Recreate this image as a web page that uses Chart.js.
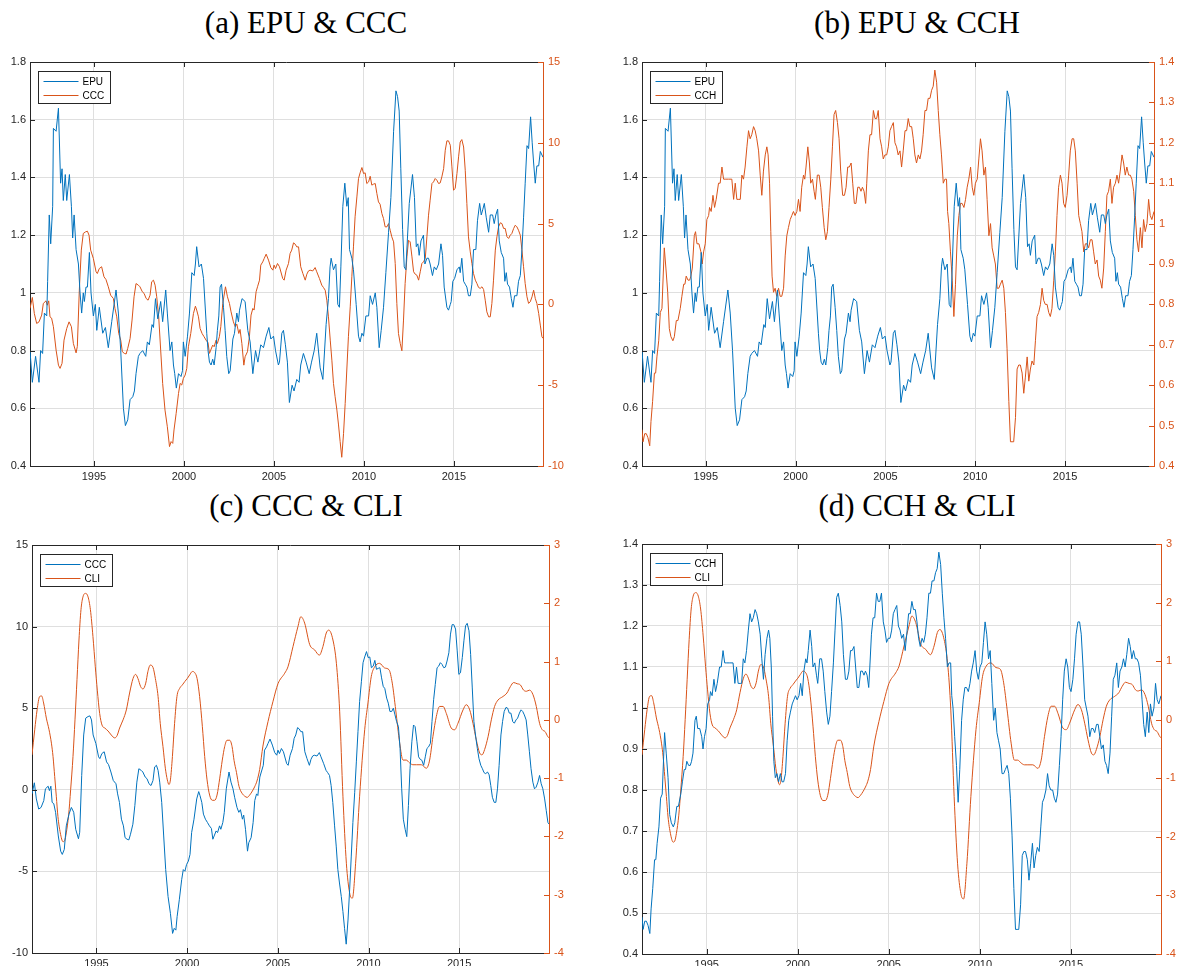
<!DOCTYPE html>
<html>
<head>
<meta charset="utf-8">
<script src="https://cdn.jsdelivr.net/npm/chart.js@4.4.1/dist/chart.umd.min.js"></script>
<style>
  html, body { margin: 0; padding: 0; background: #fff; overflow: hidden; }
  body { width: 1183px; height: 966px; position: relative; }
  canvas { position: absolute; }
  .title {
    position: absolute; width: 400px; text-align: center; white-space: nowrap;
    font-family: "Liberation Serif", "Times New Roman", serif;
    font-size: 31px; line-height: 31px; color: #000;
  }
</style>
</head>
<body>
<div class="title" style="left:106px; top:7px">(a) EPU &amp; CCC</div>
<div class="title" style="left:717px; top:7px">(b) EPU &amp; CCH</div>
<div class="title" style="left:106px; top:490px">(c) CCC &amp; CLI</div>
<div class="title" style="left:717px; top:490px">(d) CCH &amp; CLI</div>
<canvas id="panelA"></canvas>
<canvas id="panelB"></canvas>
<canvas id="panelC"></canvas>
<canvas id="panelD"></canvas>
<script>
// ---- series (decimal year / value) ----
const epuYears = [
  1991.45,1991.58,1991.76,1991.95,1992.04,1992.15,1992.25,1992.38,1992.43,1992.52,
  1992.60,1992.71,1992.75,1992.90,1993.03,1993.15,1993.23,1993.30,1993.41,1993.49,
  1993.64,1993.75,1993.82,1993.90,1994.01,1994.14,1994.23,1994.32,1994.41,1994.47,
  1994.56,1994.64,1994.75,1994.84,1994.97,1995.08,1995.16,1995.30,1995.49,1995.64,
  1995.80,1995.99,1996.23,1996.36,1996.49,1996.64,1996.75,1996.88,1997.01,1997.16,
  1997.25,1997.34,1997.47,1997.56,1997.71,1997.88,1997.97,1998.08,1998.23,1998.31,
  1998.42,1998.55,1998.71,1998.82,1998.99,1999.08,1999.23,1999.33,1999.42,1999.49,
  1999.58,1999.70,1999.84,1999.92,1999.97,2000.07,2000.20,2000.31,2000.44,2000.57,
  2000.64,2000.71,2000.84,2000.97,2001.09,2001.27,2001.34,2001.42,2001.51,2001.60,
  2001.68,2001.79,2001.86,2001.94,2002.01,2002.09,2002.20,2002.29,2002.38,2002.49,
  2002.57,2002.72,2002.81,2002.94,2003.03,2003.09,2003.23,2003.40,2003.55,2003.68,
  2003.83,2003.98,2004.11,2004.27,2004.42,2004.57,2004.72,2004.83,2004.98,2005.09,
  2005.25,2005.31,2005.44,2005.53,2005.64,2005.75,2005.86,2006.01,2006.12,2006.27,
  2006.40,2006.49,2006.64,2006.79,2006.96,2007.09,2007.24,2007.38,2007.57,2007.72,
  2007.90,2008.03,2008.12,2008.18,2008.31,2008.44,2008.55,2008.64,2008.72,2008.83,
  2008.94,2009.05,2009.13,2009.20,2009.33,2009.42,2009.57,2009.70,2009.79,2009.89,
  2009.98,2010.11,2010.26,2010.35,2010.48,2010.63,2010.72,2010.85,2010.96,2011.09,
  2011.22,2011.37,2011.50,2011.65,2011.78,2011.87,2011.96,2012.05,2012.15,2012.24,
  2012.33,2012.42,2012.52,2012.61,2012.70,2012.81,2012.91,2013.00,2013.07,2013.17,
  2013.31,2013.39,2013.50,2013.59,2013.68,2013.81,2013.91,2014.02,2014.15,2014.28,
  2014.37,2014.46,2014.61,2014.70,2014.80,2014.85,2014.94,2015.04,2015.17,2015.30,
  2015.35,2015.44,2015.54,2015.63,2015.72,2015.81,2015.91,2016.00,2016.09,2016.22,
  2016.31,2016.43,2016.52,2016.61,2016.69,2016.80,2016.93,2017.02,2017.15,2017.24,
  2017.33,2017.43,2017.52,2017.63,2017.76,2017.83,2017.91,2017.98,2018.09,2018.19,
  2018.28,2018.37,2018.50,2018.59,2018.69,2018.78,2018.87,2018.96,2019.06,2019.15,
  2019.26,2019.35,2019.43,2019.52,2019.61,2019.71,2019.80,2019.95
];
const epuValues = [
  0.80,0.69,0.78,0.69,0.80,0.79,0.93,0.92,1.04,1.27,
  1.17,1.30,1.57,1.56,1.64,1.38,1.43,1.32,1.41,1.32,
  1.41,1.30,1.19,1.27,1.15,1.10,1.00,0.93,1.00,0.97,
  1.02,1.02,1.14,1.00,0.92,0.96,0.87,0.95,0.86,0.88,
  0.81,0.90,1.01,0.93,0.80,0.60,0.54,0.56,0.63,0.64,
  0.66,0.72,0.78,0.79,0.80,0.78,0.83,0.82,0.89,0.88,
  0.98,0.91,0.97,0.90,1.01,0.93,0.80,0.83,0.75,0.72,
  0.67,0.72,0.71,0.73,0.83,0.78,0.85,0.93,1.07,1.06,
  1.10,1.16,1.09,1.10,1.05,0.86,0.80,0.76,0.75,0.77,
  0.75,0.81,0.87,0.92,1.02,1.03,0.95,0.87,0.78,0.72,
  0.73,0.84,0.86,0.93,0.90,0.94,0.98,0.97,0.87,0.83,
  0.72,0.80,0.76,0.82,0.81,0.85,0.88,0.84,0.85,0.80,
  0.75,0.76,0.86,0.87,0.82,0.76,0.62,0.68,0.66,0.70,
  0.69,0.75,0.79,0.76,0.72,0.76,0.80,0.86,0.74,0.70,
  0.89,0.98,1.09,1.12,1.08,1.10,0.96,0.95,1.09,1.30,
  1.38,1.30,1.33,1.15,1.12,1.08,0.96,0.85,0.83,0.86,
  0.85,0.92,0.92,0.99,0.96,1.00,0.95,0.81,0.87,0.95,
  1.07,1.21,1.33,1.56,1.70,1.68,1.63,1.43,1.22,1.09,
  1.08,1.19,1.31,1.36,1.41,1.33,1.16,1.17,1.13,1.18,
  1.20,1.10,1.12,1.12,1.10,1.06,1.09,1.08,1.10,1.17,
  1.13,1.02,0.95,0.94,0.96,0.97,1.04,1.05,1.08,1.09,
  1.07,1.12,1.04,1.03,1.02,0.99,0.99,1.03,1.15,1.15,
  1.25,1.31,1.27,1.29,1.31,1.26,1.21,1.27,1.27,1.24,
  1.27,1.29,1.18,1.14,1.12,1.04,1.07,1.03,1.02,0.98,
  0.95,0.99,0.99,1.04,1.06,1.15,1.26,1.38,1.51,1.50,
  1.61,1.52,1.45,1.38,1.44,1.44,1.49,1.47
];

const cccYears = [
  1991.45,1991.58,1991.69,1991.82,1991.95,1992.10,1992.19,1992.34,1992.41,1992.49,
  1992.56,1992.65,1992.75,1992.90,1993.03,1993.12,1993.23,1993.34,1993.49,1993.62,
  1993.75,1993.86,1994.01,1994.08,1994.19,1994.30,1994.41,1994.54,1994.64,1994.73,
  1994.82,1994.97,1995.12,1995.19,1995.30,1995.43,1995.56,1995.67,1995.80,1995.93,
  1996.08,1996.17,1996.27,1996.38,1996.49,1996.58,1996.69,1996.79,1996.88,1997.01,
  1997.12,1997.23,1997.34,1997.47,1997.56,1997.69,1997.79,1997.90,1998.01,1998.12,
  1998.21,1998.31,1998.40,1998.49,1998.60,1998.71,1998.82,1998.95,1999.08,1999.20,
  1999.29,1999.38,1999.45,1999.57,1999.70,1999.79,1999.88,1999.97,2000.07,2000.16,
  2000.25,2000.38,2000.53,2000.64,2000.71,2000.81,2000.90,2001.01,2001.12,2001.23,
  2001.34,2001.42,2001.49,2001.60,2001.68,2001.79,2001.86,2001.97,2002.05,2002.16,
  2002.31,2002.42,2002.53,2002.62,2002.75,2002.85,2002.94,2003.05,2003.12,2003.22,
  2003.33,2003.40,2003.53,2003.64,2003.73,2003.83,2003.90,2004.01,2004.09,2004.20,
  2004.27,2004.38,2004.46,2004.57,2004.70,2004.83,2004.94,2005.01,2005.09,2005.20,
  2005.31,2005.49,2005.57,2005.68,2005.81,2005.90,2005.99,2006.09,2006.18,2006.27,
  2006.37,2006.49,2006.61,2006.74,2006.83,2006.92,2007.01,2007.16,2007.29,2007.38,
  2007.53,2007.66,2007.75,2007.85,2007.94,2008.03,2008.13,2008.22,2008.31,2008.40,
  2008.50,2008.59,2008.68,2008.77,2008.87,2008.96,2009.05,2009.14,2009.24,2009.33,
  2009.42,2009.51,2009.61,2009.70,2009.79,2009.89,2009.98,2010.07,2010.16,2010.26,
  2010.35,2010.44,2010.53,2010.63,2010.72,2010.81,2010.90,2011.00,2011.09,2011.18,
  2011.28,2011.37,2011.46,2011.55,2011.65,2011.74,2011.83,2011.92,2012.02,2012.11,
  2012.20,2012.29,2012.39,2012.48,2012.57,2012.67,2012.76,2012.85,2012.94,2013.04,
  2013.13,2013.22,2013.31,2013.41,2013.50,2013.59,2013.68,2013.78,2013.87,2013.96,
  2014.05,2014.15,2014.24,2014.33,2014.43,2014.52,2014.61,2014.70,2014.80,2014.89,
  2014.98,2015.07,2015.17,2015.26,2015.35,2015.44,2015.54,2015.63,2015.72,2015.81,
  2015.91,2016.00,2016.09,2016.19,2016.28,2016.37,2016.46,2016.56,2016.65,2016.74,
  2016.83,2016.93,2017.02,2017.11,2017.20,2017.30,2017.39,2017.48,2017.58,2017.67,
  2017.76,2017.85,2017.95,2018.04,2018.13,2018.22,2018.32,2018.41,2018.50,2018.59,
  2018.69,2018.78,2018.87,2018.96,2019.06,2019.15,2019.24,2019.34,2019.43,2019.52,
  2019.61,2019.71,2019.80,2019.89,2019.95
];
const cccValues = [
  -0.25,0.43,-0.56,-1.18,-1.08,-0.66,0.06,0.22,-0.05,0.22,
  -0.77,-0.85,-1.38,-2.83,-3.76,-3.96,-3.65,-2.21,-1.49,-1.08,
  -1.38,-2.42,-3.00,-2.60,0.88,3.36,4.39,4.49,4.53,4.28,
  3.36,2.84,2.02,1.91,2.22,2.33,1.71,1.54,1.09,0.57,
  0.37,-0.25,-0.77,-1.80,-2.21,-2.93,-3.03,-3.07,-2.72,-2.11,
  -0.97,0.47,1.29,1.19,1.09,0.78,0.68,0.37,0.26,0.57,
  1.40,1.50,1.19,0.47,-0.77,-2.83,-4.89,-6.54,-7.57,-8.80,
  -8.49,-8.60,-7.77,-6.74,-5.51,-4.89,-4.99,-4.58,-4.37,-3.96,
  -2.62,-1.80,-0.56,-0.11,-0.35,-0.77,-1.49,-1.80,-2.00,-2.21,
  -2.37,-3.03,-2.83,-2.52,-2.62,-2.21,-2.42,-2.00,-1.38,0.06,
  1.09,0.47,0.06,-0.46,-1.08,-1.38,-1.22,-1.80,-1.55,-2.42,
  -3.76,-3.24,-2.93,-2.00,-0.66,-0.25,-0.35,0.78,1.09,1.50,
  2.43,2.63,2.84,3.11,2.74,2.28,2.12,2.43,2.22,2.53,
  2.33,1.60,1.50,2.12,2.53,3.15,3.36,3.81,3.73,3.56,
  3.56,2.33,1.91,1.50,1.87,2.07,2.12,2.07,2.28,2.02,
  1.60,1.19,1.05,0.88,0.26,-0.77,-2.21,-3.45,-4.89,-5.71,
  -6.54,-7.46,-8.49,-9.46,-7.98,-6.13,-4.06,-2.00,-0.15,1.71,
  3.56,5.42,6.65,7.79,8.14,8.47,8.10,8.14,7.48,7.58,
  7.93,7.38,7.44,7.48,6.86,6.34,6.20,5.62,5.31,4.80,
  4.80,5.00,4.59,4.18,3.87,2.53,0.06,-1.80,-2.42,-2.87,
  -0.97,1.29,2.94,3.97,3.87,2.94,2.02,1.87,1.81,1.50,
  2.02,2.53,2.63,2.84,4.18,5.52,6.45,7.48,7.58,7.79,
  7.69,7.48,7.52,7.89,8.40,9.54,10.12,10.12,9.85,8.51,
  7.07,7.17,8.10,9.13,10.05,10.20,9.74,8.30,6.24,4.18,
  3.25,2.53,1.91,1.50,1.29,1.05,0.99,1.09,0.92,0.26,
  -0.46,-0.77,-0.77,0.06,1.50,3.36,4.18,4.80,5.05,5.00,
  4.70,4.70,4.18,4.08,4.28,4.39,4.70,4.90,4.80,4.59,
  4.28,3.36,2.33,1.29,0.47,0.06,0.16,0.47,0.88,0.37,
  0.06,-0.56,-1.28,-2.00,-2.10
];

const cchYears = [
  1991.45,1991.51,1991.60,1991.69,1991.78,1991.88,1991.95,1992.04,1992.14,1992.21,
  1992.28,1992.38,1992.47,1992.56,1992.69,1992.78,1992.88,1992.97,1993.06,1993.17,
  1993.25,1993.36,1993.45,1993.58,1993.67,1993.77,1993.84,1993.91,1994.01,1994.10,
  1994.17,1994.25,1994.36,1994.43,1994.51,1994.62,1994.73,1994.80,1994.88,1994.97,
  1995.06,1995.16,1995.21,1995.30,1995.40,1995.49,1995.58,1995.71,1995.80,1995.90,
  1995.99,1996.08,1996.27,1996.45,1996.55,1996.64,1996.73,1996.84,1996.92,1997.01,
  1997.10,1997.19,1997.29,1997.38,1997.47,1997.56,1997.66,1997.75,1997.84,1997.94,
  1998.03,1998.12,1998.21,1998.31,1998.40,1998.47,1998.55,1998.62,1998.69,1998.77,
  1998.86,1998.95,1999.05,1999.14,1999.23,1999.33,1999.42,1999.51,1999.60,1999.70,
  1999.79,1999.88,1999.97,2000.07,2000.16,2000.25,2000.34,2000.44,2000.51,2000.58,
  2000.68,2000.77,2000.84,2000.94,2001.03,2001.10,2001.21,2001.31,2001.40,2001.49,
  2001.59,2001.68,2001.77,2001.86,2001.96,2002.05,2002.14,2002.23,2002.33,2002.42,
  2002.51,2002.62,2002.72,2002.81,2002.90,2002.99,2003.09,2003.18,2003.27,2003.36,
  2003.46,2003.55,2003.64,2003.72,2003.81,2003.90,2003.96,2004.05,2004.14,2004.23,
  2004.33,2004.42,2004.51,2004.60,2004.70,2004.79,2004.88,2004.97,2005.07,2005.16,
  2005.25,2005.34,2005.44,2005.53,2005.62,2005.71,2005.81,2005.90,2005.99,2006.09,
  2006.18,2006.27,2006.36,2006.46,2006.55,2006.64,2006.73,2006.83,2006.92,2007.01,
  2007.10,2007.20,2007.29,2007.38,2007.48,2007.57,2007.66,2007.75,2007.85,2007.94,
  2008.03,2008.12,2008.22,2008.31,2008.40,2008.46,2008.53,2008.62,2008.72,2008.81,
  2008.90,2009.00,2009.09,2009.18,2009.27,2009.37,2009.46,2009.55,2009.64,2009.74,
  2009.83,2009.92,2010.01,2010.11,2010.20,2010.29,2010.38,2010.48,2010.57,2010.66,
  2010.76,2010.85,2010.94,2011.03,2011.12,2011.22,2011.31,2011.40,2011.50,2011.59,
  2011.68,2011.77,2011.87,2011.96,2012.05,2012.14,2012.24,2012.33,2012.42,2012.51,
  2012.61,2012.70,2012.79,2012.89,2012.98,2013.07,2013.16,2013.26,2013.35,2013.44,
  2013.53,2013.63,2013.72,2013.81,2013.90,2014.00,2014.09,2014.18,2014.27,2014.37,
  2014.46,2014.55,2014.64,2014.74,2014.83,2014.92,2015.01,2015.11,2015.20,2015.29,
  2015.39,2015.48,2015.57,2015.67,2015.76,2015.85,2015.94,2016.04,2016.13,2016.22,
  2016.31,2016.41,2016.50,2016.59,2016.68,2016.78,2016.87,2016.96,2017.05,2017.15,
  2017.24,2017.33,2017.42,2017.52,2017.61,2017.70,2017.80,2017.89,2017.98,2018.07,
  2018.17,2018.26,2018.35,2018.44,2018.54,2018.63,2018.72,2018.82,2018.91,2019.00,
  2019.09,2019.19,2019.28,2019.37,2019.46,2019.56,2019.65,2019.74,2019.83,2019.95
];
const cchValues = [
  0.49,0.46,0.48,0.48,0.47,0.45,0.51,0.56,0.63,0.63,
  0.67,0.71,0.78,0.79,0.94,0.89,0.83,0.74,0.72,0.71,
  0.72,0.76,0.76,0.79,0.82,0.85,0.85,0.87,0.86,0.86,
  0.87,0.89,0.97,0.98,0.95,0.95,0.93,0.90,0.93,0.95,
  1.01,1.02,1.04,1.03,1.07,1.04,1.06,1.10,1.10,1.14,
  1.11,1.11,1.11,1.11,1.06,1.10,1.06,1.06,1.06,1.12,
  1.11,1.14,1.19,1.23,1.21,1.22,1.24,1.23,1.21,1.18,
  1.12,1.07,1.13,1.17,1.19,1.17,1.10,0.98,0.87,0.83,
  0.84,0.82,0.84,0.82,0.82,0.84,0.92,0.97,0.99,1.01,
  1.02,1.03,1.02,1.03,1.06,1.03,1.09,1.12,1.11,1.14,
  1.19,1.15,1.10,1.11,1.08,1.06,1.12,1.12,1.09,1.04,
  0.99,0.96,0.98,1.04,1.11,1.19,1.27,1.28,1.25,1.21,
  1.13,1.07,1.07,1.09,1.14,1.14,1.15,1.10,1.05,1.05,
  1.09,1.09,1.08,1.09,1.08,1.05,1.10,1.18,1.22,1.22,
  1.28,1.26,1.26,1.28,1.21,1.19,1.16,1.17,1.17,1.19,
  1.23,1.24,1.25,1.20,1.19,1.17,1.18,1.14,1.18,1.23,
  1.23,1.26,1.24,1.24,1.21,1.17,1.15,1.17,1.16,1.18,
  1.22,1.28,1.28,1.31,1.31,1.33,1.34,1.38,1.35,1.28,
  1.22,1.17,1.10,1.11,1.11,1.03,1.00,0.93,0.86,0.77,
  0.85,0.97,1.02,1.05,1.05,1.04,1.06,1.09,1.11,1.14,
  1.09,1.07,1.10,1.11,1.16,1.21,1.18,1.12,1.14,1.06,
  0.97,1.00,0.94,0.92,0.90,0.84,0.84,0.85,0.86,0.84,
  0.78,0.69,0.56,0.46,0.46,0.46,0.52,0.64,0.65,0.65,
  0.63,0.58,0.62,0.67,0.61,0.64,0.66,0.65,0.71,0.77,
  0.78,0.80,0.84,0.81,0.80,0.80,0.78,0.77,0.79,0.86,
  0.93,1.02,1.09,1.12,1.10,1.05,1.04,1.07,1.12,1.18,
  1.21,1.21,1.18,1.10,1.02,1.00,0.98,0.93,0.95,0.95,
  0.94,0.96,0.96,0.93,0.90,0.91,0.87,0.86,0.84,0.89,
  0.98,1.07,1.08,1.11,1.05,1.09,1.10,1.12,1.10,1.13,
  1.17,1.15,1.12,1.14,1.12,1.12,1.11,1.08,1.02,0.96,
  0.93,0.99,0.94,1.01,0.98,1.00,1.06,1.02,1.01,1.03
];

const cliYears = [
  1991.45,1991.60,1991.73,1991.87,1991.98,1992.09,1992.24,1992.39,1992.52,1992.61,
  1992.70,1992.79,1992.88,1993.01,1993.16,1993.25,1993.34,1993.47,1993.58,1993.71,
  1993.82,1993.93,1994.04,1994.15,1994.26,1994.41,1994.54,1994.67,1994.81,1994.94,
  1995.05,1995.18,1995.31,1995.46,1995.64,1995.82,1996.01,1996.14,1996.28,1996.47,
  1996.65,1996.83,1997.02,1997.16,1997.29,1997.44,1997.57,1997.72,1997.84,1997.97,
  1998.12,1998.25,1998.40,1998.52,1998.67,1998.80,1998.91,1999.00,1999.08,1999.19,
  1999.31,1999.44,1999.59,1999.74,1999.88,2000.01,2000.14,2000.29,2000.42,2000.55,
  2000.69,2000.84,2000.97,2001.10,2001.24,2001.39,2001.52,2001.65,2001.80,2001.94,
  2002.07,2002.20,2002.35,2002.48,2002.59,2002.72,2002.86,2003.03,2003.18,2003.31,
  2003.45,2003.60,2003.72,2003.85,2004.00,2004.18,2004.46,2004.73,2005.01,2005.38,
  2005.56,2005.84,2006.11,2006.27,2006.48,2006.76,2007.03,2007.29,2007.49,2007.67,
  2007.81,2008.04,2008.23,2008.41,2008.59,2008.78,2008.96,2009.11,2009.29,2009.51,
  2009.79,2009.97,2010.15,2010.34,2010.61,2010.89,2011.13,2011.31,2011.50,2011.72,
  2011.90,2012.08,2012.27,2012.45,2012.64,2012.91,2013.19,2013.37,2013.55,2013.74,
  2013.92,2014.11,2014.29,2014.56,2014.75,2014.93,2015.21,2015.39,2015.58,2015.76,
  2015.94,2016.13,2016.26,2016.40,2016.59,2016.77,2016.95,2017.14,2017.41,2017.63,
  2017.82,2018.00,2018.19,2018.37,2018.55,2018.70,2018.88,2019.07,2019.25,2019.43,
  2019.58,2019.73,2019.89,2019.95
];
const cliValues = [
  -0.60,-0.17,0.17,0.40,0.41,0.29,0.03,-0.17,-0.40,-0.63,
  -0.97,-1.31,-1.66,-1.94,-2.09,-2.07,-1.94,-1.63,-1.20,-0.63,
  0.00,0.69,1.37,1.89,2.11,2.17,2.11,1.89,1.43,0.91,
  0.51,0.11,-0.09,-0.14,-0.19,-0.26,-0.31,-0.27,-0.14,0.00,
  0.17,0.46,0.71,0.78,0.71,0.57,0.53,0.63,0.83,0.94,
  0.90,0.71,0.40,-0.06,-0.46,-0.83,-1.03,-1.11,-1.03,-0.63,
  -0.06,0.40,0.54,0.60,0.66,0.71,0.77,0.83,0.81,0.71,
  0.40,-0.11,-0.63,-1.03,-1.29,-1.38,-1.38,-1.29,-1.00,-0.69,
  -0.46,-0.35,-0.35,-0.46,-0.70,-0.90,-1.14,-1.26,-1.31,-1.33,
  -1.29,-1.22,-1.15,-1.05,-0.85,-0.45,-0.03,0.31,0.62,0.80,
  0.91,1.26,1.60,1.77,1.66,1.29,1.20,1.11,1.26,1.49,
  1.54,1.37,0.97,0.15,-1.31,-2.46,-2.97,-3.06,-2.46,-1.31,
  -0.17,0.29,0.74,0.91,0.97,0.89,0.86,0.63,0.17,-0.40,
  -0.69,-0.69,-0.74,-0.77,-0.77,-0.77,-0.83,-0.69,-0.29,0.06,
  0.23,0.23,0.11,-0.14,-0.17,-0.06,0.17,0.26,0.17,-0.06,
  -0.34,-0.57,-0.60,-0.51,-0.29,0.00,0.23,0.34,0.40,0.46,
  0.57,0.64,0.62,0.60,0.51,0.49,0.51,0.43,0.23,-0.06,
  -0.17,-0.20,-0.29,-0.31
];

// ---- axes ----
const yearTicks = [1995, 2000, 2005, 2010, 2015];
const epuTicks = [0.4, 0.6, 0.8, 1.0, 1.2, 1.4, 1.6, 1.8];
const cccTicks = [-10, -5, 0, 5, 10, 15];
const cchTicks = [0.4, 0.5, 0.6, 0.7, 0.8, 0.9, 1.0, 1.1, 1.2, 1.3, 1.4];
const cliTicks = [-4, -3, -2, -1, 0, 1, 2, 3];
const X_MIN = 1991.45, X_MAX = 2019.95;

const BLUE = '#0072BD';
const ORANGE = '#D95319';
const AXIS = '#262626';
const GRID = '#dfdfdf';
const TICK_FONT = { family: '"Liberation Sans", Arial, sans-serif', size: 11 };

function points(years, values) {
  return years.map((t, i) => ({ x: t, y: values[i] }));
}

function fmt(v) {
  return String(Math.round(v * 100) / 100);
}

// box top edge + inward tick marks, like a boxed MATLAB axes
const framePlugin = {
  id: 'frame',
  afterDatasetsDraw(chart) {
    const { ctx, chartArea: a, scales } = chart;
    const len = 5;
    ctx.save();
    ctx.lineWidth = 1;
    ctx.strokeStyle = AXIS;
    ctx.beginPath();
    ctx.moveTo(a.left, Math.round(a.top) + 0.5);
    ctx.lineTo(a.right, Math.round(a.top) + 0.5);
    scales.x.ticks.forEach(k => {
      const x = Math.round(scales.x.getPixelForValue(k.value)) + 0.5;
      ctx.moveTo(x, a.bottom); ctx.lineTo(x, a.bottom - len);
      ctx.moveTo(x, a.top); ctx.lineTo(x, a.top + len);
    });
    scales.y.ticks.forEach(k => {
      const y = Math.round(scales.y.getPixelForValue(k.value)) + 0.5;
      ctx.moveTo(a.left, y); ctx.lineTo(a.left + len, y);
    });
    ctx.stroke();
    ctx.strokeStyle = ORANGE;
    ctx.beginPath();
    scales.y1.ticks.forEach(k => {
      const y = Math.round(scales.y1.getPixelForValue(k.value)) + 0.5;
      ctx.moveTo(a.right, y); ctx.lineTo(a.right - len, y);
    });
    ctx.stroke();
    ctx.restore();
  }
};

// small boxed legend in the upper-left corner of the plot area
const legendBoxPlugin = {
  id: 'legendBox',
  afterDraw(chart) {
    const { ctx, chartArea: a } = chart;
    const x = Math.round(a.left + 8) + 0.5;
    const y = Math.round(a.top + 9) + 0.5;
    const w = 72, h = 32;
    ctx.save();
    ctx.fillStyle = '#fff';
    ctx.fillRect(x, y, w, h);
    ctx.lineWidth = 1;
    ctx.strokeStyle = AXIS;
    ctx.strokeRect(x, y, w, h);
    ctx.font = '10px "Liberation Sans", Arial, sans-serif';
    ctx.textBaseline = 'middle';
    chart.data.datasets.forEach((ds, i) => {
      const ly = Math.round(y + 9 + i * 14.3) + 0.5;
      ctx.strokeStyle = ds.borderColor;
      ctx.beginPath();
      ctx.moveTo(x + 5, ly);
      ctx.lineTo(x + 40, ly);
      ctx.stroke();
      ctx.fillStyle = '#000';
      ctx.fillText(ds.label, x + 44, ly + 0.5);
    });
    ctx.restore();
  }
};

function lineSet(label, years, values, axis, color, smooth) {
  const ds = {
    label: label,
    data: points(years, values),
    yAxisID: axis,
    borderColor: color,
    borderWidth: 1,
    pointRadius: 0,
    fill: false,
    tension: 0
  };
  if (smooth) ds.cubicInterpolationMode = 'monotone';
  return ds;
}

function makePanel(id, box, leftSet, rightSet, leftTicks, rightTicks) {
  const pad = 12, yw = 40, xh = 30;
  const canvas = document.getElementById(id);
  canvas.width = (box.right - box.left) + 2 * yw;
  canvas.height = (box.bottom - box.top) + pad + xh;
  canvas.style.left = (box.left - yw) + 'px';
  canvas.style.top = (box.top - pad) + 'px';

  new Chart(canvas, {
    type: 'line',
    data: { datasets: [leftSet, rightSet] },
    options: {
      responsive: false,
      animation: false,
      events: [],
      layout: { padding: { top: pad, left: 0, right: 0, bottom: 0 } },
      scales: {
        x: {
          type: 'linear',
          min: X_MIN,
          max: X_MAX,
          afterBuildTicks: s => { s.ticks = yearTicks.map(v => ({ value: v })); },
          afterFit: s => { s.height = xh; },
          ticks: { color: AXIS, font: TICK_FONT, padding: 4, autoSkip: false, maxRotation: 0, callback: v => String(v) },
          grid: { color: GRID, drawTicks: false },
          border: { color: AXIS }
        },
        y: {
          position: 'left',
          min: leftTicks[0],
          max: leftTicks[leftTicks.length - 1],
          afterBuildTicks: s => { s.ticks = leftTicks.map(v => ({ value: v })); },
          afterFit: s => { s.width = yw; },
          ticks: { color: AXIS, font: TICK_FONT, padding: 4, callback: fmt },
          grid: { color: GRID, drawTicks: false },
          border: { color: AXIS }
        },
        y1: {
          position: 'right',
          min: rightTicks[0],
          max: rightTicks[rightTicks.length - 1],
          afterBuildTicks: s => { s.ticks = rightTicks.map(v => ({ value: v })); },
          afterFit: s => { s.width = yw; },
          ticks: { color: ORANGE, font: TICK_FONT, padding: 5, callback: fmt },
          grid: { display: false, drawTicks: false },
          border: { color: ORANGE }
        }
      },
      plugins: {
        legend: { display: false },
        tooltip: { enabled: false }
      }
    },
    plugins: [framePlugin, legendBoxPlugin]
  });
}

makePanel('panelA', { left: 30, top: 62, right: 543, bottom: 466 },
  lineSet('EPU', epuYears, epuValues, 'y', BLUE),
  lineSet('CCC', cccYears, cccValues, 'y1', ORANGE),
  epuTicks, cccTicks);

makePanel('panelB', { left: 642, top: 62, right: 1154, bottom: 466 },
  lineSet('EPU', epuYears, epuValues, 'y', BLUE),
  lineSet('CCH', cchYears, cchValues, 'y1', ORANGE),
  epuTicks, cchTicks);

makePanel('panelC', { left: 32, top: 545, right: 549, bottom: 953 },
  lineSet('CCC', cccYears, cccValues, 'y', BLUE),
  lineSet('CLI', cliYears, cliValues, 'y1', ORANGE, true),
  cccTicks, cliTicks);

makePanel('panelD', { left: 642, top: 544, right: 1161, bottom: 954 },
  lineSet('CCH', cchYears, cchValues, 'y', BLUE),
  lineSet('CLI', cliYears, cliValues, 'y1', ORANGE, true),
  cchTicks, cliTicks);
</script>
</body>
</html>
